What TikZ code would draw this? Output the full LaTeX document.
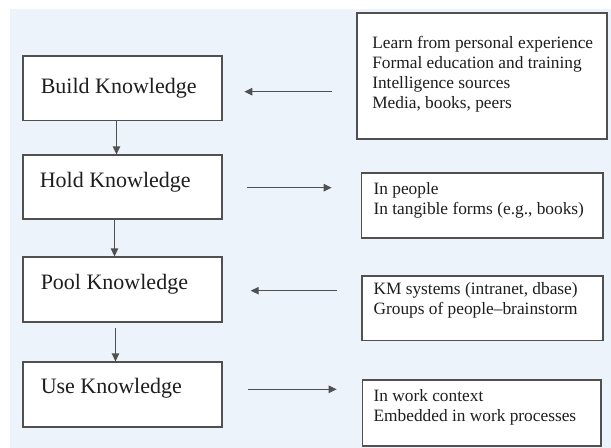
\documentclass[tikz,border=0pt]{standalone}
\usepackage{fontspec}
\setmainfont{Liberation Serif}
\usetikzlibrary{arrows.meta,fit}
\definecolor{bgblue}{HTML}{EDF3FB}
\definecolor{edgegray}{HTML}{505050}
\definecolor{ink}{HTML}{1E1E1E}
\begin{document}
\begin{tikzpicture}[x=0.75pt,y=-0.75pt,
  box/.style={draw=edgegray,line width=1.3pt,fill=white,inner sep=0pt},
  bigtext/.style={anchor=base west,inner sep=0pt,text=ink,font=\fontsize{16.5pt}{19pt}\selectfont},
  smalltext/.style={anchor=base west,inner sep=0pt,text=ink,align=left,font=\fontsize{13pt}{15pt}\selectfont},
  arr/.style={draw=edgegray,line width=1pt,-{Triangle[length=6pt,width=5.5pt]}}]
\useasboundingbox (0,0) rectangle (611,448);
\fill[white] (0,0) rectangle (611,448);
\fill[bgblue] (10,9) rectangle (611,448);
% left column
\node[box,fit={(22.7,55.7) (221.7,120.5)}] (build) {};
\node[box,fit={(22.7,155.3) (221.7,219)}] (hold) {};
\node[box,fit={(22.7,257.3) (221.7,322.3)}] (pool) {};
\node[box,fit={(22.7,362.3) (221.7,426.7)}] (use) {};
\node[bigtext] (buildt) at (40.5,93.5) {Build Knowledge};
\node[bigtext] (holdt) at (39.5,188) {Hold Knowledge};
\node[bigtext] (poolt) at (40.5,290) {Pool Knowledge};
\node[bigtext] (uset) at (40.5,393.3) {Use Knowledge};
% right column
\node[box,fit={(356.7,12.7) (606.7,138.8)}] (src) {};
\node[box,fit={(361.5,173.3) (602.7,238.3)}] (forms) {};
\node[box,fit={(362.3,276) (602.7,340.5)}] (systems) {};
\node[box,fit={(362.5,380) (601,446)}] (context) {};
\node[smalltext] (srct) at (372,108.3) {Learn from personal experience\\Formal education and training\\Intelligence sources\\Media, books, peers};
\node[smalltext] (formst) at (373.3,214.5) {In people\\In tangible forms (e.g., books)};
\node[smalltext] (systemst) at (373.3,314.5) {KM systems (intranet, dbase)\\Groups of people--brainstorm};
\node[smalltext] (contextt) at (373.3,421.5) {In work context\\Embedded in work processes};
% vertical arrows
\draw[arr] ([xshift=-4.275pt]build.south) -- ([xshift=-4.275pt]hold.north);
\draw[arr] ([xshift=-5.775pt]hold.south) -- ([xshift=-5.775pt]pool.north);
\draw[arr] ([xshift=-5.025pt,yshift=-3.3pt]pool.south) -- ([xshift=-5.025pt]use.north);
% horizontal arrows
\coordinate (a1s) at (331.7,91.7);
\coordinate (a1e) at (244.3,91.7);
\coordinate (a2s) at (246.7,187.7);
\coordinate (a2e) at (331.7,187.7);
\coordinate (a3s) at (337.3,290.7);
\coordinate (a3e) at (250.7,290.7);
\coordinate (a4s) at (248.3,389.3);
\coordinate (a4e) at (336.7,389.3);
\draw[arr] (a1s) -- (a1e);
\draw[arr] (a2s) -- (a2e);
\draw[arr] (a3s) -- (a3e);
\draw[arr] (a4s) -- (a4e);
\end{tikzpicture}
\end{document}
